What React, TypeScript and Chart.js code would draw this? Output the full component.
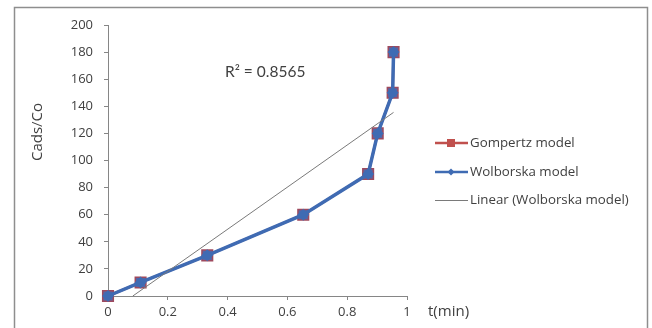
import React, { useEffect, useRef } from "react";
import { Chart, registerables } from "chart.js";

Chart.register(...registerables);

const timeValues = [0, 0.109, 0.332, 0.653, 0.87, 0.902, 0.952, 0.955];
const gompertzValues = [0, 10, 30, 60, 90, 120, 150, 180];
const wolborskaValues = [0, 10, 30, 60, 90, 120, 150, 180];
const trendX = [0.083, 0.955];
const trendY = [0, 135.5];
const yTicks = [0, 20, 40, 60, 80, 100, 120, 140, 160, 180, 200];
const xTicks = [0, 0.2, 0.4, 0.6, 0.8, 1];
const seriesLabels = ["Gompertz model", "Wolborska model", "Linear (Wolborska model)"];
const r2Label = "R² = 0.8565";
const xTitle = "t(min)";
const yTitle = "Cads/Co";

const FONT = "'Open Sans', Lato, sans-serif";
const TEXT = "#404040";
const RED = "#C0504D";
const BLUE = "#3F6BB3";
const GRAY = "#7a7a7a";

export default function App() {
  const ref = useRef<HTMLCanvasElement | null>(null);

  useEffect(() => {
    document.body.style.margin = "0";
    const canvas = ref.current;
    if (!canvas) return;

    const decor = {
      id: "decor",
      beforeDraw(chart: any) {
        const ctx = chart.ctx;
        ctx.save();
        ctx.fillStyle = "#ffffff";
        ctx.fillRect(0, 0, chart.width, chart.height);
        ctx.strokeStyle = "#8e8e8e";
        ctx.lineWidth = 1.5;
        ctx.strokeRect(14.5, 7.5, 633, 340);
        ctx.restore();
      },
      afterDraw(chart: any) {
        const ctx = chart.ctx;
        ctx.save();
        ctx.fillStyle = TEXT;
        ctx.textBaseline = "middle";
        ctx.textAlign = "left";
        // R² annotation
        ctx.font = `15.5px Lato, sans-serif`;
        ctx.fillText(r2Label, 225, 72);
        // x title
        ctx.font = `15px ${FONT}`;
        ctx.fillText(xTitle, 428, 312);
        // y title
        ctx.save();
        ctx.translate(38, 132);
        ctx.rotate(-Math.PI / 2);
        ctx.textAlign = "center";
        ctx.font = `15px ${FONT}`;
        ctx.fillText(yTitle, 0, 0);
        ctx.restore();

        // legend
        const rows = [143, 172, 200];
        const x0 = 435, x1 = 468, mx = 451;
        ctx.lineWidth = 2.5;
        ctx.strokeStyle = RED;
        ctx.beginPath(); ctx.moveTo(x0, rows[0]); ctx.lineTo(x1, rows[0]); ctx.stroke();
        ctx.fillStyle = RED;
        ctx.fillRect(mx - 4, rows[0] - 4, 8, 8);
        ctx.strokeStyle = BLUE;
        ctx.beginPath(); ctx.moveTo(x0, rows[1]); ctx.lineTo(x1, rows[1]); ctx.stroke();
        ctx.fillStyle = BLUE;
        ctx.beginPath();
        ctx.moveTo(mx, rows[1] - 3.5); ctx.lineTo(mx + 3.5, rows[1]);
        ctx.lineTo(mx, rows[1] + 3.5); ctx.lineTo(mx - 3.5, rows[1]);
        ctx.closePath(); ctx.fill();
        ctx.lineWidth = 1;
        ctx.strokeStyle = GRAY;
        ctx.beginPath(); ctx.moveTo(x0, rows[2] + 0.5); ctx.lineTo(x1, rows[2] + 0.5); ctx.stroke();

        ctx.fillStyle = TEXT;
        ctx.font = `13.3px ${FONT}`;
        seriesLabels.forEach((l, i) => ctx.fillText(l, 470, rows[i]));
        ctx.restore();
      },
    };

    const chart = new Chart(canvas, {
      type: "scatter",
      data: {
        datasets: [
          {
            label: seriesLabels[1],
            data: timeValues.map((t, i) => ({ x: t, y: wolborskaValues[i] })),
            showLine: true,
            borderColor: BLUE,
            borderWidth: 3.5,
            backgroundColor: BLUE,
            pointStyle: "rectRot",
            pointRadius: 6,
            pointBorderWidth: 0,
            order: 0,
            clip: false,
          },
          {
            label: seriesLabels[0],
            data: timeValues.map((t, i) => ({ x: t, y: gompertzValues[i] })),
            showLine: true,
            borderColor: RED,
            borderWidth: 2.5,
            backgroundColor: "#5666A6",
            pointBorderColor: "#9E4A5E",
            pointStyle: "rect",
            pointRadius: 7.5,
            pointBorderWidth: 1.5,
            order: 1,
            clip: false,
          },
          {
            label: seriesLabels[2],
            data: trendX.map((t, i) => ({ x: t, y: trendY[i] })),
            showLine: true,
            borderColor: GRAY,
            borderWidth: 1,
            pointRadius: 0,
            order: -1,
            clip: false,
          },
        ],
      },
      options: {
        responsive: false,
        animation: false,
        layout: { padding: { left: 0, right: 245, top: 25, bottom: 0 } },
        plugins: { legend: { display: false }, tooltip: { enabled: false } },
        scales: {
          x: {
            type: "linear",
            min: 0,
            max: 1,
            afterFit: (s: any) => { s.height = 32; },
            afterBuildTicks: (s: any) => { s.ticks = xTicks.map((v) => ({ value: v })); },
            ticks: {
              color: TEXT,
              font: { family: FONT, size: 13 },
              padding: 4,
              maxRotation: 0,
              callback: (v: any) => String(Number(Number(v).toFixed(1))),
            },
            grid: { drawOnChartArea: false, drawTicks: true, tickLength: 4, color: "#868686" },
            border: { color: "#868686" },
          },
          y: {
            type: "linear",
            min: 0,
            max: 200,
            afterFit: (s: any) => { s.width = 108; },
            afterBuildTicks: (s: any) => { s.ticks = yTicks.map((v) => ({ value: v })); },
            ticks: {
              color: TEXT,
              font: { family: FONT, size: 13 },
              padding: 11,
            },
            grid: { drawOnChartArea: false, drawTicks: true, tickLength: 4, color: "#868686" },
            border: { color: "#868686" },
          },
        },
      },
      plugins: [decor],
    } as any);

    return () => chart.destroy();
  }, []);

  return <canvas ref={ref} width={652} height={328} style={{ display: "block", width: 652, height: 328 }} />;
}
